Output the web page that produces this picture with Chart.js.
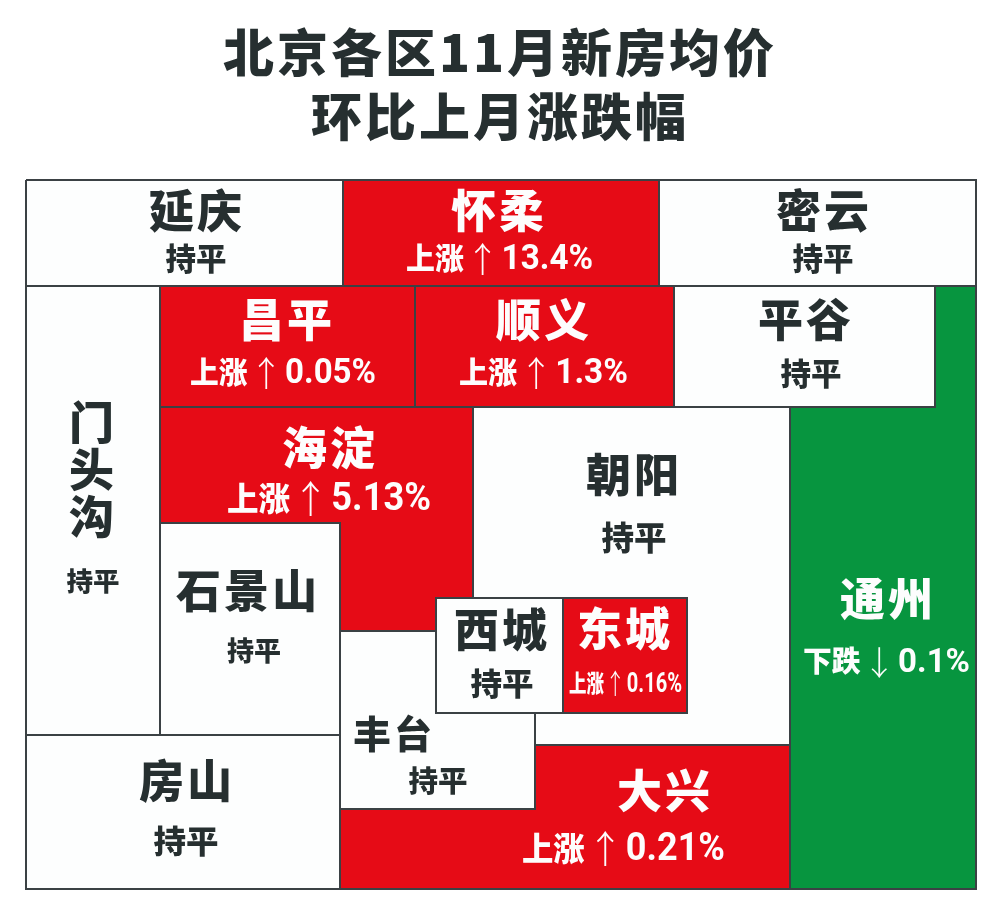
<!DOCTYPE html>
<html><head><meta charset="utf-8">
<style>html,body{margin:0;padding:0;background:#fff}canvas{display:block}</style>
<script src="https://cdn.jsdelivr.net/npm/chart.js@4/dist/chart.umd.js"></script>
</head><body><canvas id="c" width="1000" height="914"></canvas>
<script>
const titleLines = ['北京各区11月新房均价', '环比上月涨跌幅'];
const districts = ['延庆','怀柔','密云','门头沟','昌平','顺义','平谷','通州','海淀','石景山','朝阳','西城','东城','丰台','大兴','房山'];
const changes =   ['0','13.4','0','0','0.05','1.3','0','-0.1','5.13','0','0','0','0.16','0','0.21','0'];

// Schematic outline of each district, in map units
const outlines = [
 [[26,180],[343,180],[343,286],[26,286]],
 [[343,180],[659,180],[659,286],[343,286]],
 [[659,180],[976,180],[976,286],[659,286]],
 [[26,286],[160,286],[160,735],[26,735]],
 [[160,286],[415,286],[415,407],[160,407]],
 [[415,286],[674,286],[674,407],[415,407]],
 [[674,286],[935,286],[935,407],[674,407]],
 [[935,286],[976,286],[976,889],[790,889],[790,407],[935,407]],
 [[160,407],[473,407],[473,598],[436,598],[436,631],[340,631],[340,523],[160,523]],
 [[160,523],[340,523],[340,735],[160,735]],
 [[473,407],[790,407],[790,745],[535,745],[535,713],[687,713],[687,598],[473,598]],
 [[436,598],[563,598],[563,713],[436,713]],
 [[563,598],[687,598],[687,713],[563,713]],
 [[340,631],[436,631],[436,713],[535,713],[535,809],[340,809]],
 [[340,809],[535,809],[535,745],[790,745],[790,889],[340,889]],
 [[26,735],[340,735],[340,889],[26,889]]
];
// name x, name y, name size, status x, status y, status font size, status width
const labelSpots = [
 [197,211,45,196,258,31,61],[499,211,45,499.5,258,30,187],[824,211,45,823,258,31,61],
 [93,470,45,93,581,26,53],[287,320,45,283,372,30,186],[544,320,45,543.5,372,30,169],
 [806,320,45,811,373,31,61],[888,599,45,886.5,661,29,167],[330,448,45,329,498,33,204],
 [248,591,45,254,651,27,54],[634,475,45,634,537,33,65],[502,630,45,502,683,31,63],
 [625,629,45,625.5,683,24,113],[394,734,38,438,781,29,59],[665,791,45,623.5,848,33,203],[187,781,45,186,841,32,65]
];

const RED='#e60b16', GREEN='#07953f', WHITE='#fdfefe', INK='#262f30', EDGE='#3b4144';
const CJK='"Noto Sans CJK SC"', LATIN='Roboto';
const fillOf = v => +v>0?RED:(+v<0?GREEN:WHITE);
const inkOf = v => +v===0?INK:'#fdfdfd';
const statusOf = v => +v===0?['持平']:(+v>0?['上涨','↑',`${v}%`]:['下跌','↓',`${String(v).slice(1)}%`]);

function drawStatus(ctx,parts,cx,cy,size,width){
  const fonts=[`900 ${size}px ${CJK}`,`200 ${size*1.15}px ${CJK}`,`700 ${size*1.15}px ${LATIN}`];
  const gap=size*0.08;
  const drop=[0,size*0.03,size*0.08];
  const widths=parts.map((p,k)=>{ctx.font=fonts[k];return ctx.measureText(p).width;});
  const total=widths.reduce((a,b)=>a+b,0)+gap*(parts.length-1);
  ctx.save();
  ctx.translate(cx,cy);
  ctx.scale(width/total,1);
  ctx.textAlign='left';
  let px=-total/2;
  parts.forEach((p,k)=>{ctx.font=fonts[k];ctx.fillText(p,px,drop[k]);px+=widths[k]+gap;});
  ctx.restore();
}

const labelPlugin = {
 id:'labels',
 beforeDraw(chart){ chart.ctx.letterSpacing='3px'; },
 afterDatasetsDraw(chart){
  const {ctx,scales:{x,y}}=chart;
  ctx.save();
  ctx.textAlign='center'; ctx.textBaseline='middle';
  districts.forEach((name,i)=>{
   const s=labelSpots[i], v=changes[i];
   ctx.fillStyle=inkOf(v);
   ctx.letterSpacing='3px';
   ctx.font=`900 ${s[2]}px ${CJK}`;
   if(name==='门头沟'){
     [...name].forEach((ch,k)=>ctx.fillText(ch,x.getPixelForValue(s[0]),y.getPixelForValue(s[1]+(k-1)*47)));
   } else {
     ctx.fillText(name,x.getPixelForValue(s[0]),y.getPixelForValue(s[1]));
   }
   ctx.letterSpacing='0px';
   drawStatus(ctx,statusOf(v),x.getPixelForValue(s[3]),y.getPixelForValue(s[4]),s[5],s[6]);
  });
  ctx.restore();
 }
};

new Chart(document.getElementById('c'),{
 type:'scatter',
 data:{datasets:districts.map((name,i)=>({
   label:name,
   data:[...outlines[i],outlines[i][0]].map(([x,y])=>({x,y})),
   showLine:true, fill:'shape', tension:0,
   backgroundColor:fillOf(changes[i]),
   borderColor:EDGE, borderWidth:2, pointRadius:0, clip:false
 }))},
 options:{
  responsive:false, animation:false, events:[],
  layout:{padding:0},
  plugins:{
   legend:{display:false}, tooltip:{enabled:false},
   title:{display:true,text:titleLines,color:INK,
     font:{family:CJK,size:51,weight:'900',lineHeight:1.255},
     padding:{top:21,bottom:21}}
  },
  scales:{
   x:{type:'linear',display:false,min:0,max:1000},
   y:{type:'linear',display:false,min:170,max:914,reverse:true}
  }
 },
 plugins:[labelPlugin]
});
</script></body></html>
